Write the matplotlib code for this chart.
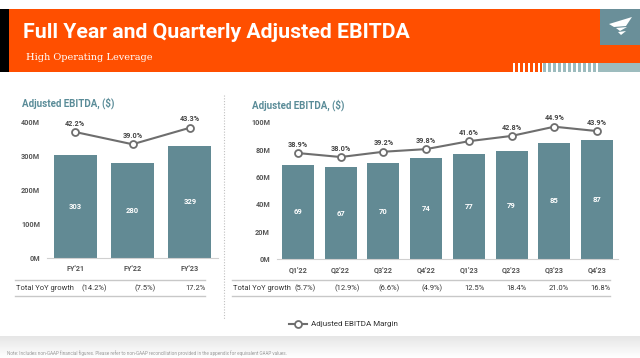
import matplotlib
matplotlib.use("Agg")
import matplotlib.pyplot as plt
import matplotlib.transforms as mtransforms
from matplotlib.patches import Rectangle, Polygon
from matplotlib.lines import Line2D
import numpy as np

plt.rcParams["font.family"] = ["Roboto", "DejaVu Sans"]

# full year data
years = ["FY'21", "FY'22", "FY'23"]
year_ebitda = [303, 280, 329]
year_margin = [42.2, 39.0, 43.3]
year_growth = ["(14.2%)", "(7.5%)", "17.2%"]

# quarterly data
quarters = ["Q1'22", "Q2'22", "Q3'22", "Q4'22", "Q1'23", "Q2'23", "Q3'23", "Q4'23"]
q_ebitda = [69, 67, 70, 74, 77, 79, 85, 87]
q_margin = [38.9, 38.0, 39.2, 39.8, 41.6, 42.8, 44.9, 43.9]
q_growth = ["(5.7%)", "(12.9%)", "(6.6%)", "(4.9%)", "12.5%", "18.4%", "21.0%", "16.8%"]

W, H = 640, 358
ORANGE = "#ff4f00"
BAR = "#628a94"
TEAL = "#5a8c98"
LINE = "#6e6e6e"
TICK = "#555555"

fig = plt.figure(figsize=(W / 100, H / 100), dpi=100)


def fx(x):
    return x / W


def fy(y):
    return 1 - y / H


def rect(x0, y0, x1, y1, color):
    fig.add_artist(Rectangle((fx(x0), fy(y1)), fx(x1 - x0), (y1 - y0) / H,
                             transform=fig.transFigure, color=color, lw=0))


# footer gradient
bg = fig.add_axes([0, 0, 1, 22 / H])
grad = np.linspace(0, 1, 50).reshape(-1, 1)
bg.imshow(grad, aspect="auto", cmap=matplotlib.colors.LinearSegmentedColormap.from_list(
    "g", ["#e6e6e6", "#ffffff"]), extent=[0, 1, 0, 1])
bg.axis("off")

# banner
rect(0, 9, 640, 72, ORANGE)
rect(0, 9, 9, 72, "black")
rect(600, 9, 640, 45, "#6a8f99")
rect(542, 63, 600, 72, "white")
rect(600, 63, 640, 72, "#9dbcbe")
for x in np.arange(513, 541, 5):
    rect(x, 63, x + 2, 72, "white")
for x in np.arange(543, 599, 5):
    rect(x, 63, x + 3, 72, "#9dbcbe")
# logo
for pts in [[(609, 24), (632, 17), (626, 26), (614, 27)],
            [(616, 28), (627, 27), (620, 31)],
            [(618, 32), (626, 31), (621, 35)]]:
    fig.add_artist(Polygon([(fx(a), fy(b)) for a, b in pts], closed=True,
                           transform=fig.transFigure, color="white", lw=0))

fig.text(fx(23), fy(33), "Full Year and Quarterly Adjusted EBITDA", color="white",
         fontsize=15.3, fontweight="bold", va="center", ha="left")
fig.text(fx(26), fy(57), "High Operating Leverage", color="white",
         fontsize=7, family=["DejaVu Serif"], va="center", ha="left")


def panel(box, cats, vals, margin, growth, ymax, step, mlim, title_xy, table_x, cols):
    ax = fig.add_axes(box)
    x = np.arange(len(cats))
    bars = ax.bar(x, vals, width=0.75, color=BAR, zorder=2)
    for b, v in zip(bars, vals):
        ax.text(b.get_x() + b.get_width() / 2, v / 2, str(v), ha="center", va="center",
                color="white", fontsize=5.5, fontweight="bold")
    ax.set_xlim(-0.49, len(cats) - 0.51)
    ax.set_ylim(0, ymax)
    ax.set_yticks(np.arange(0, ymax + 1, step))
    ax.set_yticklabels([f"{int(t)}M" for t in np.arange(0, ymax + 1, step)])
    ax.set_xticks(x)
    ax.set_xticklabels(cats)
    ax.tick_params(length=0, labelsize=5.2, labelcolor=TICK, pad=5)
    for lab in ax.get_xticklabels() + ax.get_yticklabels():
        lab.set_fontweight("bold")
    for s in ["top", "right", "left"]:
        ax.spines[s].set_visible(False)
    ax.spines["bottom"].set_color("#d0d0d0")
    ax.spines["bottom"].set_linewidth(0.8)

    ax2 = ax.twinx()
    ax2.plot(x, margin, color=LINE, lw=1.5, marker="o", ms=5, mfc="white",
             mec=LINE, mew=1.3, zorder=3)
    ax2.set_ylim(*mlim)
    ax2.axis("off")
    for xi, m in zip(x, margin):
        ax2.annotate(f"{m:.1f}%", (xi, m), xytext=(0, 6), textcoords="offset points",
                     ha="center", va="center", fontsize=5.2, color="#444444",
                     fontweight="bold")

    fig.text(fx(title_xy[0]), fy(title_xy[1]), "Adjusted EBITDA, ($)", color=TEAL,
             fontsize=7, fontweight="bold", va="center")

    # growth table row
    for yy in (279.5, 296):
        fig.add_artist(Line2D([fx(table_x[0]), fx(table_x[1])], [fy(yy), fy(yy)],
                              transform=fig.transFigure, color="#c8c8c8", lw=1))
    fig.text(fx(table_x[0] + 1), fy(288), "Total YoY growth", fontsize=5.4,
             color="#333333", va="center")
    tr = mtransforms.blended_transform_factory(ax.transData, fig.transFigure)
    for xi, g in zip(x, growth):
        ax.text(cols[0] + cols[1] * xi, fy(288), g, transform=tr, ha="center",
                va="center", fontsize=5.4, color="#333333")
    return ax


panel([fx(47), fy(257.7), fx(218 - 47), (257.7 - 122) / H], years, year_ebitda,
      year_margin, year_growth, 400, 100, (9.45, 44.8), (22, 103), (15, 205), (0.33, 0.885))
panel([fx(277), fy(259), fx(618 - 277), (259 - 122.3) / H], quarters, q_ebitda,
      q_margin, q_growth, 100, 20, (14.8, 45.9), (252, 105), (232, 610), (0.16, 0.99))

# dotted divider
fig.add_artist(Line2D([fx(224), fx(224)], [fy(95), fy(320)], transform=fig.transFigure,
                      color="#c0c0c0", lw=0.8, ls=(0, (1, 1.5))))

# legend
fig.add_artist(Line2D([fx(289), fx(307)], [fy(324), fy(324)], transform=fig.transFigure,
                      color=LINE, lw=1.5))
fig.add_artist(Line2D([fx(298)], [fy(324)], transform=fig.transFigure, color=LINE,
                      marker="o", ms=5, mfc="white", mec=LINE, mew=1.3))
fig.text(fx(311), fy(324), "Adjusted EBITDA Margin", fontsize=5.8, color="#333333",
         va="center")

fig.text(fx(7), fy(353), "Note: Includes non-GAAP financial figures. Please refer to non-GAAP "
         "reconciliation provided in the appendix for equivalent GAAP values.",
         fontsize=3.3, color="#999999", va="center")

fig.savefig("out.png", dpi=100)
